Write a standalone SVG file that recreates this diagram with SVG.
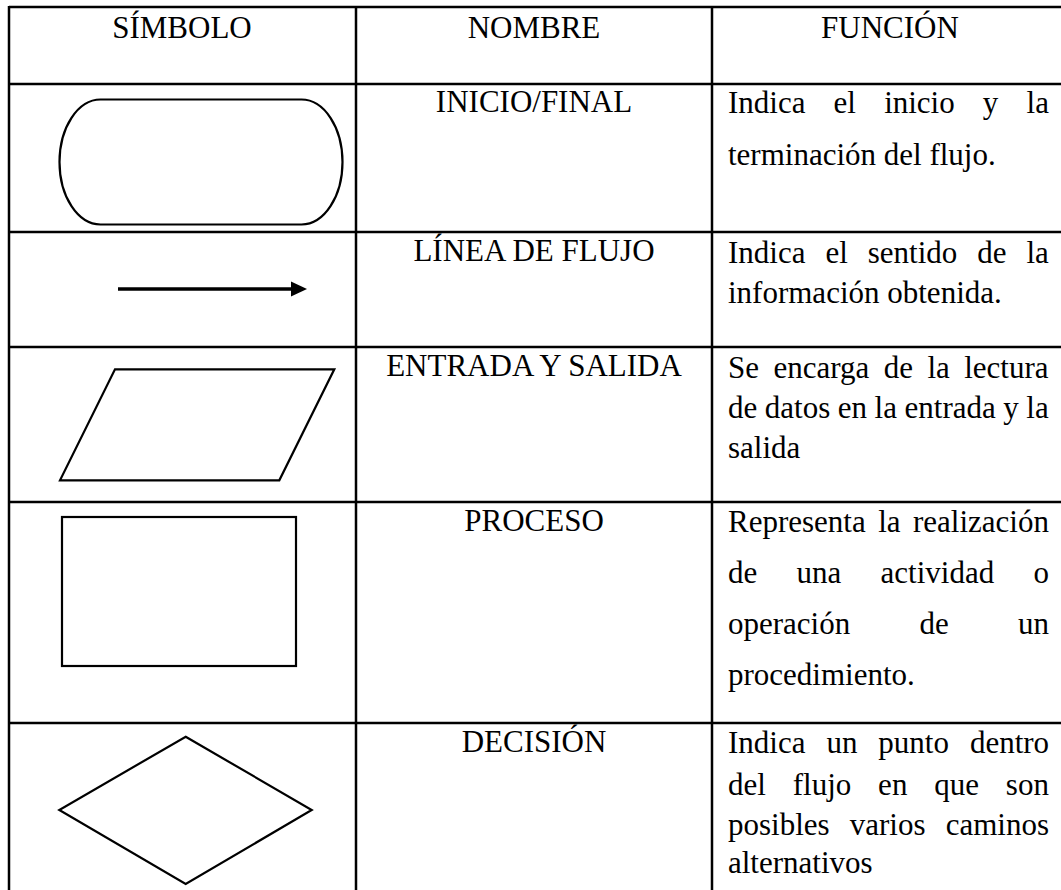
<svg xmlns="http://www.w3.org/2000/svg" width="1061" height="890" viewBox="0 0 1061 890">
<style>
.grid{stroke:#000;stroke-width:2.5;fill:none}
.shape{stroke:#000;stroke-width:2.2;fill:#fff}
.t{font-family:'Liberation Serif','Tinos','Times New Roman','Noto Serif','DejaVu Serif',serif;font-size:31px;fill:#000}
.c{text-anchor:middle}
</style>
<rect x="0" y="0" width="1061" height="890" fill="#fff"/>
<g id="grid" class="grid">
<line x1="9" y1="7" x2="1061" y2="7"/>
<line x1="9" y1="84" x2="1061" y2="84"/>
<line x1="9" y1="232" x2="1061" y2="232"/>
<line x1="9" y1="347" x2="1061" y2="347"/>
<line x1="9" y1="502" x2="1061" y2="502"/>
<line x1="9" y1="723" x2="1061" y2="723"/>
<line x1="9" y1="6" x2="9" y2="890"/>
<line x1="356" y1="6" x2="356" y2="890"/>
<line x1="712" y1="6" x2="712" y2="890"/>
</g>
<g id="header" font-family="Liberation Serif, serif">
<text class="t c" x="182" y="38">SÍMBOLO</text>
<text class="t c" x="534" y="38">NOMBRE</text>
<text class="t c" x="890" y="38">FUNCIÓN</text>
</g>
<g id="row-inicio">
<path class="shape" d="M100.5,99.5 H301.5 A41,62.5 0 0 1 301.5,224.5 H100.5 A41,62.5 0 0 1 100.5,99.5 Z"/>
<text class="t c" x="534" y="112">INICIO/FINAL</text>
<text class="t" x="728" y="113" style="word-spacing:20.4px">Indica el inicio y la</text>
<text class="t" x="728" y="165">terminación del flujo.</text>
</g>
<g id="row-linea">
<line x1="118" y1="289" x2="293" y2="289" stroke="#000" stroke-width="3.6"/>
<polygon points="291,281.5 307,289 291,296.5" fill="#000"/>
<text class="t c" x="534" y="261">LÍNEA DE FLUJO</text>
<text class="t" x="728" y="263" style="word-spacing:12.2px">Indica el sentido de la</text>
<text class="t" x="728" y="303">información obtenida.</text>
</g>
<g id="row-entrada">
<polygon class="shape" points="115,369.3 334.3,369.3 279.3,480.3 60,480.3"/>
<text class="t c" x="534" y="376">ENTRADA Y SALIDA</text>
<text class="t" x="728" y="378" style="word-spacing:6.7px">Se encarga de la lectura</text>
<text class="t" x="728" y="418" style="word-spacing:-0.2px">de datos en la entrada y la</text>
<text class="t" x="728" y="458">salida</text>
</g>
<g id="row-proceso">
<rect class="shape" x="62" y="517" width="234" height="149"/>
<text class="t c" x="534" y="531">PROCESO</text>
<text class="t" x="728" y="532" style="word-spacing:4.7px">Representa la realización</text>
<text class="t" x="728" y="583" style="word-spacing:31.5px">de una actividad o</text>
<text class="t" x="728" y="634" style="word-spacing:61.5px">operación de un</text>
<text class="t" x="728" y="685">procedimiento.</text>
</g>
<g id="row-decision">
<polygon class="shape" points="185.7,736.7 311.7,810 185.7,884 59.3,810"/>
<text class="t c" x="534" y="752">DECISIÓN</text>
<text class="t" x="728" y="753" style="word-spacing:13.2px">Indica un punto dentro</text>
<text class="t" x="728" y="795" style="word-spacing:19.1px">del flujo en que son</text>
<text class="t" x="728" y="835" style="word-spacing:12.4px">posibles varios caminos</text>
<text class="t" x="728" y="873">alternativos</text>
</g>
</svg>
